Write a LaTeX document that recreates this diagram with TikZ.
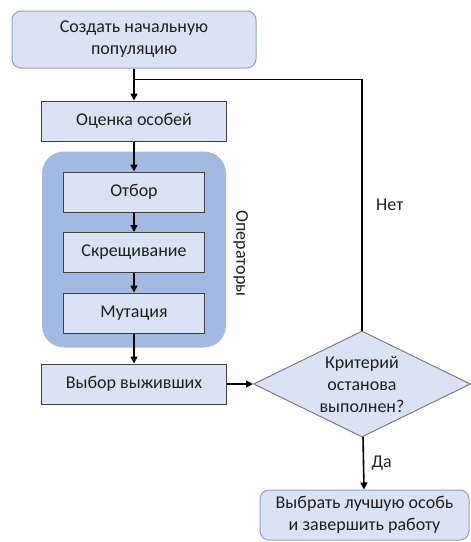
\documentclass[tikz,border=0pt]{standalone}
\usepackage{fontspec}
\setmainfont{Carlito}
\usetikzlibrary{positioning, arrows.meta, fit, calc, shapes.geometric, backgrounds}

\definecolor{boxfill}{HTML}{DAE3F3}
\definecolor{opsfill}{HTML}{A2B9E2}
\definecolor{rndline}{HTML}{8FA3C4}
\definecolor{diaLine}{HTML}{7A7F88}
\definecolor{txtcol}{HTML}{202020}

\begin{document}
\begin{tikzpicture}[
        font=\fontsize{18}{22}\selectfont,
        text=txtcol,
        >={Triangle[width=7pt,length=7pt]},
        node distance=19.5pt and 26pt,
        rndbox/.style={
            draw=rndline,
            fill=boxfill,
            line width=1pt,
            rounded corners=9pt,
            align=center
        },
        procbox/.style={
            draw=black!75,
            fill=boxfill,
            line width=1pt,
            minimum width=185pt,
            minimum height=40pt,
            align=center
        },
        opbox/.style={
            procbox,
            minimum width=141pt
        },
        decision/.style={
            diamond,
            draw=diaLine,
            fill=boxfill,
            line width=1pt,
            aspect=2,
            inner sep=0pt,
            minimum width=217pt,
            minimum height=106pt,
            align=center
        },
        opsframe/.style={
            fill=opsfill,
            rounded corners=22pt,
            inner xsep=21pt,
            inner ysep=17pt
        },
        arr/.style={->, line width=1.6pt}
    ]

    \useasboundingbox (0,0) rectangle (471pt,-542pt);

    \node[rndbox, minimum width=244pt, minimum height=57pt] (start) at (134pt,-39.5pt) {
        Создать начальную\\
        популяцию
    };

    \node[procbox, below=32pt of start] (eval) {Оценка особей};

    \node[opbox, below=30pt of eval] (select) {Отбор};
    \node[opbox, below=of select] (cross) {Скрещивание};
    \node[opbox, below=of cross] (mutate) {Мутация};

    \node[procbox, below=30pt of mutate] (survive) {Выбор выживших};

    \node[decision, right=of survive] (stopcrit) {
        Критерий\\
        останова\\
        выполнен?
    };

    \node[rndbox, minimum width=209pt, minimum height=50pt, below=52pt of stopcrit,
          xshift=2.5pt] (finish) {
        Выбрать лучшую особь\\
        и завершить работу
    };

    % operators frame behind the three inner boxes
    \begin{scope}[on background layer]
        \node[opsframe, fit=(select) (mutate), yshift=3pt] (ops) {};
    \end{scope}
    \node[rotate=-90, anchor=south, inner sep=0pt] (opslabel)
        at ([xshift=7pt, yshift=-4pt]ops.east) {Операторы};

    \coordinate[below=11pt of start] (junc);

    \draw[arr] (start)   -- (eval);
    \draw[arr] (eval)    -- (select);
    \draw[arr] (select)  -- (cross);
    \draw[arr] (cross)   -- (mutate);
    \draw[arr] (mutate)  -- (survive);
    \draw[arr] (survive) -- (stopcrit);
    \draw[arr] (stopcrit) -- node[right=4pt] {Да} (finish);
    \draw[line width=1.6pt] (stopcrit.north) |- node[pos=0.25, right=10pt] {Нет} (junc);

\end{tikzpicture}
\end{document}
